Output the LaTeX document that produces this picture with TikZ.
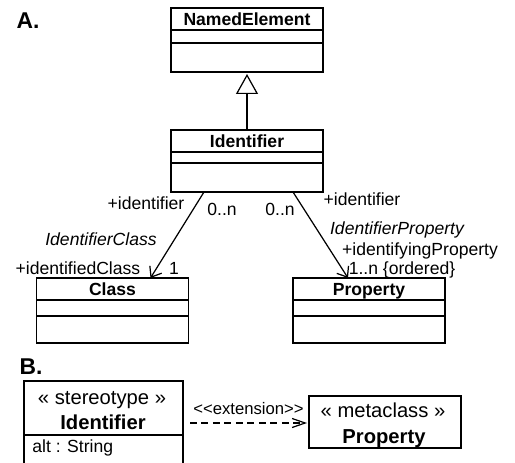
\documentclass[tikz,border=0pt]{standalone}
\usepackage{fontspec}
\setmainfont{Liberation Sans}
\usetikzlibrary{arrows.meta,calc,positioning}

% UML class: name, north point, title, heights of the three compartments
\newcommand{\umlclass}[6]{%
  \node[classbox, minimum height={(#4+#5+#6)*0.02cm}, anchor=north] (#1) at #2 {};
  \node[classtitle, anchor=center] (#1-title) at ($(#1.north)+(0,#4/2)$) {#3};
  \draw[boxline] ($(#1.north west)+(0,#4)$) -- ($(#1.north east)+(0,#4)$);
  \draw[boxline] ($(#1.north west)+(0,#4+#5)$) -- ($(#1.north east)+(0,#4+#5)$);
}

\begin{document}
\begin{tikzpicture}[
  x=0.02cm, y=-0.02cm,
  font=\fontsize{10}{12}\selectfont,
  classbox/.style={draw, line width=0.8pt, outer sep=0pt, inner sep=0pt,
                   minimum width={152*0.02cm}},
  classtitle/.style={font=\fontsize{10}{12}\selectfont\bfseries, inner sep=0pt,
                     text height=7pt, text depth=0pt},
  boxline/.style={line width=0.8pt},
  lbl/.style={inner sep=0pt, text height=7pt, text depth=0pt},
  proflbl/.style={lbl, font=\fontsize{11.5}{13}\selectfont, text height=8pt},
  proftitle/.style={proflbl, font=\fontsize{11.5}{13}\selectfont\bfseries},
  assoc/.style={-{Straight Barb[length=1.8mm,width=2.8mm]}, line width=0.7pt},
  generalize/.style={-{Triangle[open, length=4mm, width=4.4mm, fill=white]}, line width=0.7pt},
  extend/.style={-{Straight Barb[length=2.6mm,width=1.8mm]}, line width=0.7pt,
                 dash pattern=on 1.4mm off 0.9mm},
  panel/.style={font=\fontsize{13}{15}\selectfont\bfseries, inner sep=0pt},
]
\useasboundingbox (0,0) rectangle (515,463);

% A. identifier model
\node[panel] (panelA) at (28,21) {A.};
\umlclass{namedel}{(247,8)}{NamedElement}{22}{13}{29}
\umlclass{identifier}{(247,130)}{Identifier}{22}{11}{29}
\umlclass{class}{(112.5,278)}{Class}{22}{16}{27}
\umlclass{property}{(369,278)}{Property}{22}{16}{27}

\draw[generalize] (identifier.north) -- ($(namedel.south)+(0,2)$);
\draw[assoc] ($(identifier.south west)+(33,0)$) -- ($(class.north west)+(114,0)$);
\draw[assoc] ($(identifier.south west)+(122,0)$) -- ($(property.north west)+(55,0)$);

\node[lbl] (idleft) at (146,203) {+identifier};
\node[lbl] (multleft) at (222,209) {0..n};
\node[lbl, font=\fontsize{10}{12}\selectfont\itshape] (assocclass) at (101,239) {IdentifierClass};
\node[lbl] (roleclass) at (78,268) {+identifiedClass};
\node[lbl] (multclass) at (174,268) {1};

\node[lbl] (multright) at (280,209) {0..n};
\node[lbl] (idright) at (362,199) {+identifier};
\node[lbl, font=\fontsize{10}{12}\selectfont\itshape] (assocprop) at (397,228) {IdentifierProperty};
\node[lbl] (roleprop) at (420,249) {+identifyingProperty};
\node[lbl] (multprop) at (402,268) {1..n \{ordered\}};

% B. profile
\node[panel] (panelB) at (31,367) {B.};
\node[classbox, minimum width={159*0.02cm}, minimum height={92*0.02cm}, anchor=north]
  (stereo) at (103.5,381) {};
\node[proflbl] (stereo-kind) at (102,397) {« stereotype »};
\node[proftitle] (stereo-title) at (103,422) {Identifier};
\draw[boxline] ($(stereo.north west)+(0,54)$) -- ($(stereo.north east)+(0,54)$);
\node[lbl, anchor=west] (stereo-attr) at (32,446) {alt : String};

\node[classbox, minimum height={52*0.02cm}] (meta) at (385,422) {};
\node[proflbl] (meta-kind) at (383,410) {« metaclass »};
\node[proftitle] (meta-title) at (384,436) {Property};

\draw[extend] ($(stereo.east |- meta.west)+(7,1)$) -- ($(meta.west)+(-2,1)$)
  node[lbl, font=\fontsize{9.5}{11}\selectfont, midway, above=1.5mm] (extlbl)
  {<\kern0pt<extension>\kern0pt>};
\end{tikzpicture}
\end{document}
